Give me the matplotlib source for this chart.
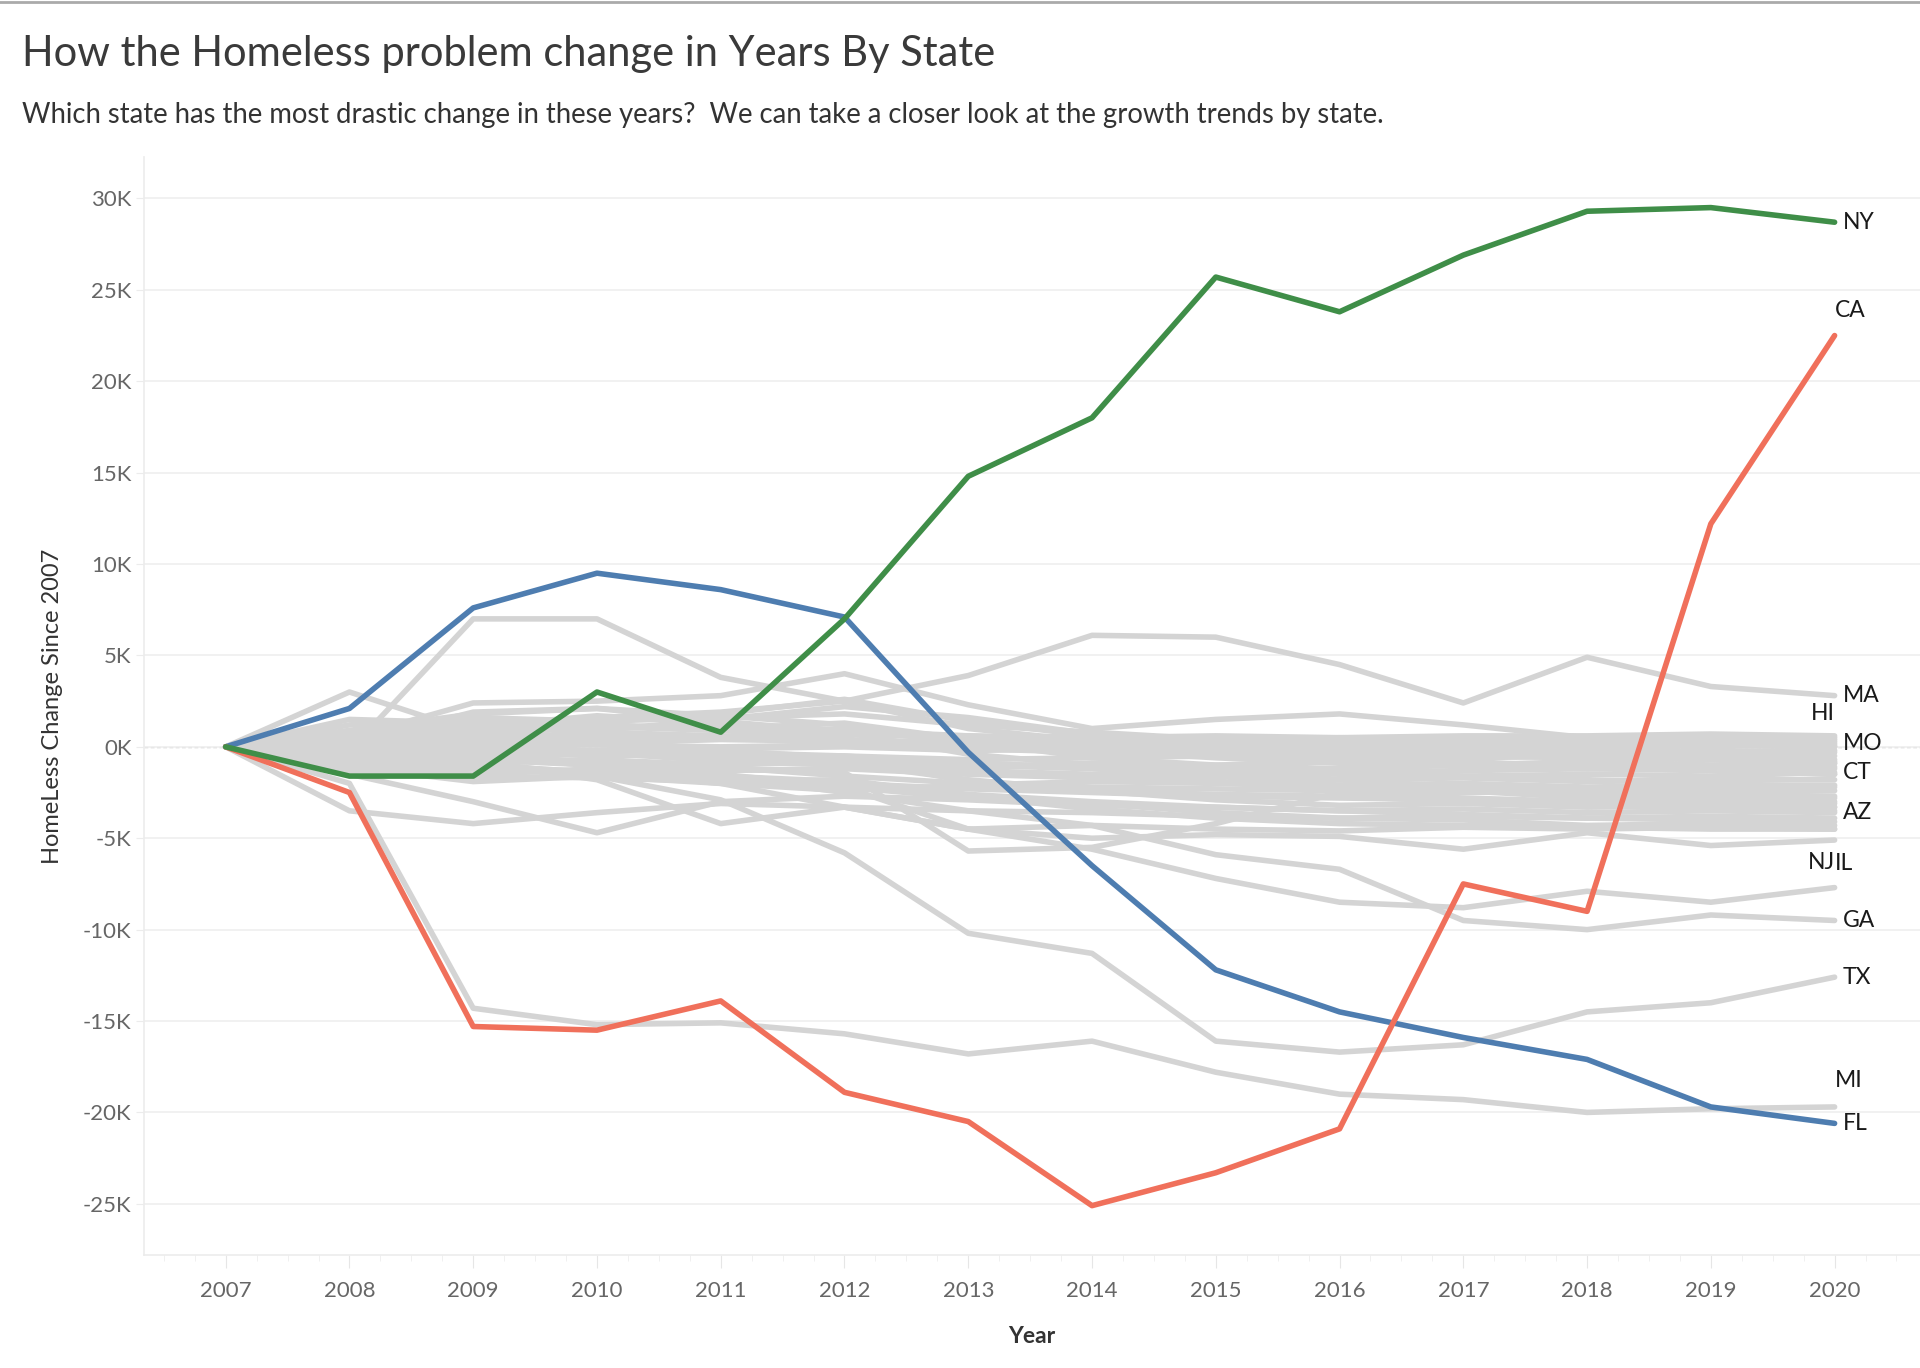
import matplotlib
matplotlib.use("Agg")
import matplotlib.pyplot as plt
from matplotlib.ticker import FuncFormatter, MultipleLocator

plt.rcParams['font.family'] = ['Lato', 'DejaVu Sans']

# Years and homeless change since 2007 (thousands)
years = list(range(2007, 2021))

# highlighted states
ny = [0, -1.6, -1.6, 3.0, 0.8, 7.0, 14.8, 18.0, 25.7, 23.8, 26.9, 29.3, 29.5, 28.7]
ca = [0, -2.5, -15.3, -15.5, -13.9, -18.9, -20.5, -25.1, -23.3, -20.9, -7.5, -9.0, 12.2, 22.5]
fl = [0, 2.1, 7.6, 9.5, 8.6, 7.1, -0.3, -6.5, -12.2, -14.5, -15.9, -17.1, -19.7, -20.6]

# other states (gray)
mi = [0, -2.0, -14.3, -15.2, -15.1, -15.7, -16.8, -16.1, -17.8, -19.0, -19.3, -20.0, -19.8, -19.7]
tx = [0, 0.3, -0.8, -1.6, -2.9, -5.8, -10.2, -11.3, -16.1, -16.7, -16.3, -14.5, -14.0, -12.6]
ga = [0, -0.3, -0.6, -1.0, -1.6, -2.5, -3.5, -4.3, -5.9, -6.7, -9.5, -10.0, -9.2, -9.5]
il = [0, -0.6, -1.0, -1.4, -2.0, -3.3, -4.5, -5.6, -7.2, -8.5, -8.8, -7.9, -8.5, -7.7]
ma = [0, 0.8, 1.2, 1.6, 1.9, 2.5, 3.9, 6.1, 6.0, 4.5, 2.4, 4.9, 3.3, 2.8]
nj = [0, -0.8, -1.2, -1.5, -1.9, -2.2, -4.5, -5.0, -4.8, -4.9, -5.6, -4.7, -5.4, -5.1]
hi = [0, 0.3, 0.5, 0.6, 0.5, 0.7, 0.6, 0.5, 0.6, 0.5, 0.6, 0.6, 0.7, 0.6]
mo = [0, 0.1, 0.2, 0.1, 0.0, 0.1, 0.0, 0.1, 0.1, 0.0, 0.1, 0.2, 0.3, 0.2]
ct = [0, -0.6, -0.8, -0.3, -0.5, -0.9, -1.3, -1.5, -1.3, -1.5, -1.6, -1.5, -1.6, -1.4]
az = [0, -0.9, -1.5, -1.2, -1.6, -1.9, -2.6, -3.0, -3.3, -3.5, -3.4, -3.6, -3.5, -3.6]

others = [
    [0, -0.2, 7.0, 7.0, 3.8, 2.5, 1.0, 0.3, -0.5, -0.8, -1.0, -1.2, -1.3, -1.5],
    [0, 3.0, 0.8, 0.2, -0.3, -0.5, -1.0, -1.2, -1.5, -1.3, -1.6, -1.8, -2.0, -2.2],
    [0, 0.5, 2.4, 2.5, 2.8, 4.0, 2.3, 1.0, 1.5, 1.8, 1.2, 0.5, 0.4, 0.3],
    [0, -3.5, -4.2, -3.6, -3.1, -3.3, -3.5, -3.6, -3.8, -3.9, -4.0, -4.3, -4.2, -4.3],
    [0, -1.5, -3.0, -4.7, -3.0, -2.7, -2.9, -3.2, -3.3, -3.5, -3.7, -3.9, -4.0, -4.1],
    [0, -0.5, -0.8, -1.8, -4.2, -3.3, -4.5, -4.3, -4.5, -4.6, -4.4, -4.5, -4.4, -4.5],
    [0, -0.4, -0.7, -1.0, -1.2, -1.4, -5.7, -5.5, -4.2, -2.5, -2.8, -3.0, -3.2, -3.3],
    [0, 0.2, 0.3, 0.2, 0.4, 0.3, 0.2, 0.3, 0.2, 0.3, 0.4, 0.3, 0.5, 0.4],
    [0, -0.1, 0.0, -0.2, -0.1, 0.0, -0.2, -0.1, -0.2, -0.1, 0.0, -0.1, 0.1, 0.0],
    [0, 0.4, 0.8, 1.0, 1.2, 0.9, 0.6, 0.3, 0.1, -0.1, -0.2, -0.3, -0.2, -0.3],
    [0, -0.3, -0.5, -0.4, -0.6, -0.5, -0.7, -0.6, -0.5, -0.6, -0.5, -0.6, -0.4, -0.5],
    [0, 0.6, 1.0, 1.4, 1.6, 1.8, 1.2, 0.8, 0.4, 0.2, 0.0, -0.3, -0.5, -0.7],
    [0, -0.5, -0.9, -0.7, -1.0, -0.8, -1.1, -0.9, -1.0, -1.2, -1.0, -0.9, -1.0, -0.9],
    [0, 0.2, -0.2, -0.5, -0.3, -0.6, -0.9, -1.1, -1.2, -1.4, -1.3, -1.2, -1.1, -1.2],
    [0, 0.8, 1.3, 0.9, 1.5, 2.2, 1.6, 0.7, 0.2, -0.4, -0.8, -1.1, -1.3, -1.5],
    [0, -0.2, -0.6, -1.0, -1.3, -1.2, -1.5, -1.7, -1.6, -1.8, -1.7, -1.9, -1.8, -1.8],
    [0, 0.5, 0.2, -0.3, -0.8, -1.0, -1.4, -1.6, -1.9, -2.1, -2.0, -2.2, -2.1, -2.1],
    [0, -0.7, -1.2, -1.5, -1.1, -1.6, -2.0, -2.2, -2.3, -2.4, -2.5, -2.4, -2.4, -2.4],
    [0, 1.2, 1.5, 1.2, 1.0, 1.3, 0.4, -0.5, -1.2, -1.8, -2.2, -2.5, -2.6, -2.7],
    [0, -0.4, -1.0, -1.4, -1.8, -2.0, -2.3, -2.5, -2.7, -2.8, -2.9, -3.0, -2.9, -3.0],
    [0, 0.3, 0.7, 0.4, -0.2, -0.9, -1.8, -2.4, -2.9, -3.2, -3.1, -3.3, -3.2, -3.3],
    [0, 0.9, 1.8, 2.1, 1.7, 1.2, 0.3, -0.6, -1.0, -0.8, -0.6, -0.5, -0.6, -0.8],
    [0, -0.2, 0.4, 0.8, 0.6, 0.3, -0.1, -0.3, -0.4, -0.3, -0.2, -0.4, -0.3, -0.2],
    [0, 0.7, 1.6, 1.4, 1.8, 2.6, 1.4, 0.6, 0.5, 0.4, 0.3, 0.2, 0.3, 0.1],
    [0, 0.1, -0.4, -0.9, -1.5, -2.2, -2.8, -3.1, -3.6, -3.9, -3.8, -3.9, -3.8, -3.9],
    [0, 1.5, 1.3, 1.1, 0.9, 0.7, 0.5, 0.2, 0.0, -0.2, -0.4, -0.6, -0.7, -0.9],
    [0, -1.1, -1.9, -1.6, -2.0, -2.4, -2.1, -1.9, -2.0, -2.2, -2.4, -2.6, -2.7, -2.8],
    [0, 0.4, 1.1, 1.7, 1.3, 0.8, -0.4, -1.0, -1.6, -2.1, -2.4, -2.8, -3.0, -3.1],
    [0, -0.3, 0.6, 1.2, 0.9, 0.4, 0.2, 0.4, 0.3, 0.5, 0.4, 0.5, 0.6, 0.5],
    [0, 0.2, 1.9, 2.1, 1.4, 0.8, 0.5, 0.6, 0.4, 0.3, 0.2, 0.0, 0.1, 0.0],
    [0, -1.3, -1.6, -1.7, -1.9, -1.8, -2.7, -3.4, -3.9, -4.2, -4.3, -4.4, -4.5, -4.5],
    [0, 0.6, 0.9, 0.3, 0.5, 1.0, 0.2, -0.2, -0.6, -0.9, -1.0, -0.8, -1.0, -1.1],
    [0, -0.1, -0.3, 0.4, -0.2, -0.6, -1.9, -2.4, -2.6, -2.7, -3.0, -3.2, -3.4, -3.5],
]

labeled_gray = {'MI': mi, 'TX': tx, 'GA': ga, 'IL': il, 'MA': ma, 'NJ': nj,
                'HI': hi, 'MO': mo, 'CT': ct, 'AZ': az}
highlight = {'FL': (fl, '#4e7db0'), 'CA': (ca, '#f0705b'), 'NY': (ny, '#3f8e48')}

# label placement (offset points, alignment)
label_pos = {
    'NY': (6, 0, 'left'), 'CA': (0, 18, 'left'), 'MA': (6, 0, 'left'),
    'HI': (0, 16, 'right'), 'MO': (6, 0, 'left'), 'CT': (6, 0, 'left'),
    'AZ': (6, 0, 'left'), 'NJ': (0, -16, 'right'), 'IL': (0, 17, 'left'),
    'GA': (6, 0, 'left'), 'TX': (6, 0, 'left'), 'MI': (0, 19, 'left'),
    'FL': (6, 0, 'left'),
}

fig = plt.figure(figsize=(19.2, 13.68), dpi=100)
ax = fig.add_axes([0.075, 0.0826, 0.925, 0.8024])

gray = '#d4d4d4'
lw = 4.0
for vals in others:
    ax.plot(years, vals, color=gray, lw=lw, solid_capstyle='round', solid_joinstyle='round')
for name, vals in labeled_gray.items():
    ax.plot(years, vals, color=gray, lw=lw, solid_capstyle='round', solid_joinstyle='round')
for name, (vals, c) in highlight.items():
    ax.plot(years, vals, color=c, lw=lw, solid_capstyle='round', solid_joinstyle='round', zorder=5)

ends = {k: v[-1] for k, v in labeled_gray.items()}
ends.update({k: v[0][-1] for k, v in highlight.items()})
for name, (dx, dy, ha) in label_pos.items():
    ax.annotate(name, (years[-1], ends[name]), xytext=(dx, dy), textcoords='offset points',
                ha=ha, va='center', fontsize=16.5, color='#1a1a1a', zorder=6)

ax.axhline(0, color='#9a9a9a', lw=0.9, ls=(0, (3, 2)), zorder=0.5)

ax.set_xlim(2006.34, 2020.69)
ax.set_ylim(-27.8, 32.25)
ax.yaxis.set_major_locator(MultipleLocator(5))
ax.yaxis.set_major_formatter(FuncFormatter(lambda v, p: f"{v:.0f}K"))
ax.set_xticks(years)
ax.xaxis.set_minor_locator(MultipleLocator(0.25))
ax.grid(axis='y', color='#f0f0f0', lw=1.3, zorder=0)
ax.set_axisbelow(True)

for s in ['top', 'right']:
    ax.spines[s].set_visible(False)
for s in ['left', 'bottom']:
    ax.spines[s].set_color('#ececec')
    ax.spines[s].set_linewidth(1.2)

ax.tick_params(axis='y', length=6, color='#ececec', labelsize=16, labelcolor='#666666', pad=3)
ax.tick_params(axis='x', which='major', length=9, color='#e6e6e6', labelsize=16,
               labelcolor='#666666', pad=10)
ax.tick_params(axis='x', which='minor', length=4, color='#eeeeee')

ax.set_xlabel('Year', fontsize=16.5, color='#333333', fontweight='bold', labelpad=18)
ax.set_ylabel('HomeLess Change Since 2007', fontsize=17, color='#333333', labelpad=14)

fig.text(0.0115, 0.9605, 'How the Homeless problem change in Years By State',
         fontsize=30, color='#3a3a3a', va='center', ha='left')
fig.text(0.0115, 0.916, 'Which state has the most drastic change in these years?  '
         'We can take a closer look at the growth trends by state.',
         fontsize=19.8, color='#333333', va='center', ha='left')
fig.add_artist(plt.Line2D([0, 1], [0.9985, 0.9985], color='#aaaaaa', lw=2,
                          transform=fig.transFigure))

fig.savefig('out.png', dpi=100)
